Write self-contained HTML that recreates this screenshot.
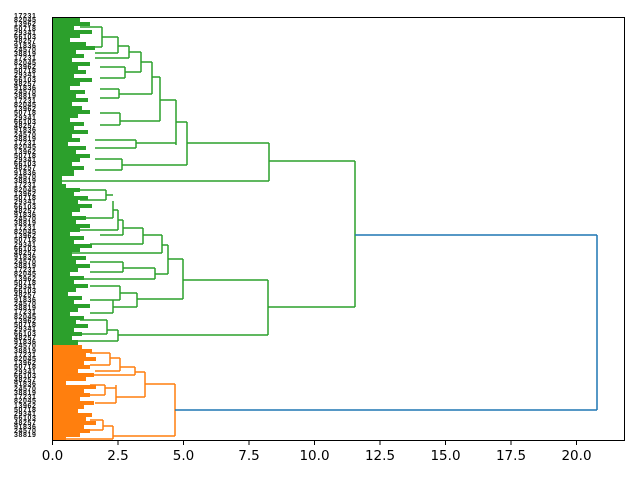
<!DOCTYPE html>
<html><head><meta charset="utf-8"><style>
html,body{margin:0;padding:0;background:#fff;}
#w{position:relative;width:640px;height:480px;overflow:hidden;}
#lab{position:absolute;left:14px;top:15px;width:30px;font:bold 7px "Liberation Sans",sans-serif;line-height:4.24px;color:#111;letter-spacing:0.6px;white-space:nowrap;}
svg{position:absolute;left:0;top:0;}
</style></head><body><div id="w">
<div id="lab">17231<br>82045<br>13962<br>50718<br>29341<br>66103<br>48257<br>91836<br>24570<br>38819<br>17231<br>82045<br>13962<br>50718<br>29341<br>66103<br>48257<br>91836<br>24570<br>38819<br>17231<br>82045<br>13962<br>50718<br>29341<br>66103<br>48257<br>91836<br>24570<br>38819<br>17231<br>82045<br>13962<br>50718<br>29341<br>66103<br>48257<br>91836<br>24570<br>38819<br>17231<br>82045<br>13962<br>50718<br>29341<br>66103<br>48257<br>91836<br>24570<br>38819<br>17231<br>82045<br>13962<br>50718<br>29341<br>66103<br>48257<br>91836<br>24570<br>38819<br>17231<br>82045<br>13962<br>50718<br>29341<br>66103<br>48257<br>91836<br>24570<br>38819<br>17231<br>82045<br>13962<br>50718<br>29341<br>66103<br>48257<br>91836<br>24570<br>38819<br>17231<br>82045<br>13962<br>50718<br>29341<br>66103<br>48257<br>91836<br>24570<br>38819<br>17231<br>82045<br>13962<br>50718<br>29341<br>66103<br>48257<br>91836<br>24570<br>38819</div>
<svg width="640" height="480" viewBox="0 0 640 480">
<polygon fill="#2ca02c" points="52,18 80,18 80,22 90,22 90,26 74,26 74,30 92,30 92,34 80,34 80,38 70,38 70,42 86,42 86,46 95,46 95,50 76,50 76,54 84,54 84,58 72,58 72,62 90,62 90,66 78,66 78,70 86,70 86,74 74,74 74,78 92,78 92,82 80,82 80,86 70,86 70,90 85,90 85,94 76,94 76,98 88,98 88,102 72,102 72,106 82,106 82,110 90,110 90,114 78,114 78,118 70,118 70,122 84,122 84,126 74,126 74,130 88,130 88,134 72,134 72,138 80,138 80,142 68,142 68,146 86,146 86,150 76,150 76,154 90,154 90,158 80,158 80,162 72,162 72,166 84,166 84,170 74,170 74,176 62,176 62,184 66,184 66,188 80,188 80,192 74,192 74,196 88,196 88,200 78,200 78,204 92,204 92,208 80,208 80,212 72,212 72,216 86,216 86,220 76,220 76,224 90,224 90,228 80,228 80,232 70,232 70,236 84,236 84,240 74,240 74,244 92,244 92,248 80,248 80,252 72,252 72,256 86,256 86,260 76,260 76,264 90,264 90,268 78,268 78,272 70,272 70,276 84,276 84,280 74,280 74,284 88,284 88,288 76,288 76,292 68,292 68,296 82,296 82,300 74,300 74,304 90,304 90,308 78,308 78,312 70,312 70,316 84,316 84,320 76,320 76,324 88,324 88,328 74,328 74,332 82,332 82,336 72,336 72,340 78,340 78,345 52,345"/>
<polygon fill="#ff7f0e" points="52,345 82,345 82,349 92,349 92,353 86,353 86,357 96,357 96,361 84,361 84,365 90,365 90,369 78,369 78,373 94,373 94,377 86,377 86,381 66,381 66,385 96,385 96,389 84,389 84,393 90,393 90,397 80,397 80,401 94,401 94,405 84,405 84,409 78,409 78,413 92,413 92,417 86,417 86,421 96,421 96,425 84,425 84,429 90,429 90,433 80,433 80,437 66,437 66,441 52,441"/>
<g fill="none" stroke-width="1.5">
<g stroke="#2ca02c">
<path d="M80,27H102M80,47H102M102,27V47M102,37H118M95,53H118M118,37V53M118,46H129M95,58H129M129,46V58M129,52H141M100,67H125M100,78H125M125,67V78M125,72H141M141,52V72M141,62H152M100,89H119M100,98H119M119,89V98M119,94H152M152,62V94M152,77H160M100,113H120M100,125H120M120,113V125M120,121H160M160,77V121M160,100H176M95,140H136M95,148H136M136,140V148M136,143H176M176,100V145M176,122H187M95,159H122M95,170H122M122,159V170M122,165H187M187,122V165M187,143H269M62,181H269M269,143V181M269,161H355"/>
<path d="M80,190H106M80,200H106M106,190V200M106,195H113M80,218H113M113,201V218M113,210H118M80,230H118M118,210V230M118,220H123M100,235H123M123,220V235M123,228H143M90,244H113M100,244H143M143,228V244M143,235H162M70,253H162M162,235V253M162,245H168M90,262H123M90,272H123M123,262V272M123,268H155M80,279H155M155,268V279M155,274H168M168,245V274M168,259H183M90,286H120M90,300H120M120,286V300M120,293H137M90,300H113M90,313H113M113,300V313M113,307H137M137,293V307M137,299H183M183,259V299M183,280H268M80,320H107M80,334H107M107,320V334M107,330H118M72,341H118M118,330V341M118,335H268M268,280V335M268,307H355M355,161V307"/>
</g>
<g stroke="#ff7f0e">
<path d="M90,353H110M90,365H110M110,353V365M110,358H120M95,371H120M120,358V371M120,367H135M66,375H135M135,367V375M135,372H145M90,385H105M90,395H105M105,385V395M105,388H116M95,403H116M116,385V403M116,397H145M145,372V397M145,384H175M90,420H103M90,430H103M103,420V430M103,426H113M66,439H113M113,426V439M113,436H175M175,384V436"/>
</g>
<path stroke="#1f77b4" d="M355,235H597M175,410H597M597,235V410"/>
</g>
<rect x="52.5" y="17.5" width="572" height="423" fill="none" stroke="#000" stroke-width="1"/>
<g stroke="#000" stroke-width="1">
<path d="M52.5,441V445M118,441V445M183.5,441V445M249,441V445M314.5,441V445M380,441V445M445.5,441V445M511,441V445M576.5,441V445"/>
</g>
<g font-family="DejaVu Sans, Liberation Sans, sans-serif" font-size="13.5" text-anchor="middle" fill="#000">
<text x="52.5" y="460">0.0</text><text x="118" y="460">2.5</text><text x="183.5" y="460">5.0</text><text x="249" y="460">7.5</text><text x="314.5" y="460">10.0</text><text x="380" y="460">12.5</text><text x="445.5" y="460">15.0</text><text x="511" y="460">17.5</text><text x="576.5" y="460">20.0</text>
</g>
</svg></div></body></html>
